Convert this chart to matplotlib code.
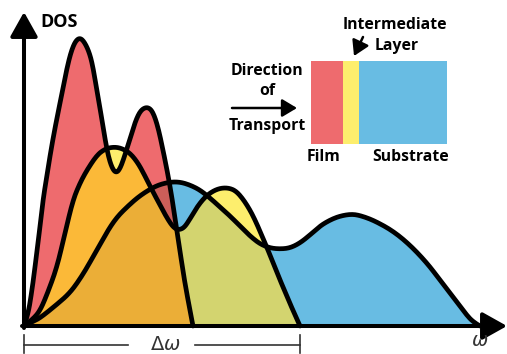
import numpy as np
import matplotlib
matplotlib.use('Agg')
import matplotlib.pyplot as plt
from matplotlib.patches import Rectangle
from matplotlib.path import Path

# DOS curves (arbitrary units), omega and DOS
film_w = [0, 4, 8, 11, 15, 19, 23, 27, 31, 35, 39, 43, 47, 51, 55, 59, 64, 68, 72, 76,
          80, 84, 88, 92, 96, 101, 107, 113, 118, 124, 129, 134, 139, 144, 148, 152, 157, 162, 169]
film_dos = [0, 11, 36, 59, 91, 126, 151, 176, 198, 218, 238, 258, 274, 284, 288, 286, 277, 264, 241, 218,
            193, 171, 158, 153, 157, 171, 191, 209, 217, 219, 214, 199, 176, 151, 128, 101, 68, 36, 0]

layer_w = [0, 8, 16, 24, 33, 41, 49, 56, 63, 73, 81, 89, 97, 106, 114, 121, 128, 136, 143,
           149, 154, 160, 166, 173, 181, 189, 197, 205, 212, 219, 226, 232, 238, 244, 251, 259, 267, 276]
layer_dos = [0, 6, 15, 34, 59, 93, 126, 143, 156, 171, 177, 179, 178, 173, 163, 150, 136, 121, 108,
             99, 96, 98, 107, 119, 129, 135, 138, 138, 135, 127, 116, 104, 90, 76, 58, 39, 20, 0]

sub_w = [0, 8, 16, 31, 46, 58, 69, 78, 86, 94, 103, 113, 123, 134, 146, 156, 166, 176, 186, 196, 206,
         216, 226, 236, 246, 256, 266, 276, 286, 296, 306, 316, 328, 338, 351, 369, 386, 403, 416, 429,
         441, 449, 456]
sub_dos = [0, 4, 8, 20, 33, 50, 69, 85, 99, 110, 119, 128, 135, 141, 144, 144, 141, 136, 128, 119, 110,
           100, 90, 82, 78, 77, 78, 83, 91, 100, 106, 110, 112, 110, 105, 95, 81, 63, 46, 29,
           13, 4, 0]

# colours for every overlap (bit 1 film, 2 layer, 4 substrate)
region_colors = {1: '#EE6B6E', 2: '#FDEE6D', 4: '#68BCE3', 3: '#FBB938',
                 6: '#D3D46F', 5: '#CC5E59', 7: '#EBAE37'}


def smooth_curve(w, d):
    '''
    quadratic bezier through the midpoints, so the sketch lines come out round
    '''
    pts = np.column_stack([w, d]).astype(float)
    verts = [pts[0]]
    codes = [Path.MOVETO]
    for i in range(1, len(pts) - 1):
        end = pts[i + 1] if i == len(pts) - 2 else (pts[i] + pts[i + 1]) / 2
        verts += [pts[i], end]
        codes += [Path.CURVE3, Path.CURVE3]
    path = Path(verts, codes)
    out = []
    for seg, code in path.iter_bezier():
        out.append(seg.point_at_t(np.linspace(0, 1, 12)))
    out = np.vstack(out)
    return out[:, 0], out[:, 1]


fig = plt.figure(figsize=(5.07, 3.54), dpi=100)
ax = fig.add_axes([0, 0, 1, 1])
ax.set_xlim(-24, 483)
ax.set_ylim(-28, 326)
ax.axis('off')

smooth = [smooth_curve(film_w, film_dos), smooth_curve(layer_w, layer_dos), smooth_curve(sub_w, sub_dos)]

# fine grid just for painting the overlaps
x = np.linspace(0, max(sub_w), 4000)
curves = np.array([np.interp(x, sw, sd, right=0) for sw, sd in smooth])
bits = np.array([1, 2, 4])
order = np.argsort(curves, axis=0)
srt = np.take_along_axis(curves, order, axis=0)
lows = [np.zeros_like(x), srt[0], srt[1]]
for k in range(3):
    mask = bits[order[k:]].sum(axis=0)
    hi = srt[k]
    for m, c in region_colors.items():
        sel = mask == m
        sel = sel | np.roll(sel, 1) | np.roll(sel, -1)
        ax.fill_between(x, lows[k], hi, where=sel & (hi > lows[k]), color=c, lw=0)

for sw, sd in smooth[::-1]:
    ax.plot(sw, sd, color='black', lw=3.4, solid_joinstyle='round', solid_capstyle='round')

# axes with arrow heads
arr = dict(arrowstyle='-|>,head_length=0.75,head_width=0.42', color='black', lw=2.9,
           mutation_scale=20, shrinkA=0, shrinkB=0)
ax.annotate('', xy=(0, 314), xytext=(0, -2), arrowprops=arr)
ax.annotate('', xy=(483, 0), xytext=(-2, 0), arrowprops=arr)

ax.text(16, 304, 'DOS', fontsize=13, fontweight='bold', family='Open Sans', va='center', ha='left')
ax.text(456, -15, r'$\omega$', fontsize=14, color='#333333', ha='center', va='center')

# delta omega bracket under the axis
br = layer_w[-1]
ax.plot([0, 104], [-19, -19], color='#333333', lw=1.2)
ax.plot([171, br], [-19, -19], color='#333333', lw=1.2)
ax.plot([0, 0], [-9, -27], color='#333333', lw=1.2)
ax.plot([br, br], [-9, -27], color='#333333', lw=1.2)
ax.text(141, -18, r'$\Delta\omega$', fontsize=14, color='#333333', ha='center', va='center')

# inset: film / intermediate layer / substrate
ax.add_patch(Rectangle((287, 182), 32, 83, color=region_colors[1], lw=0))
ax.add_patch(Rectangle((319, 182), 16, 83, color=region_colors[2], lw=0))
ax.add_patch(Rectangle((335, 182), 88, 83, color=region_colors[4], lw=0))

tk = dict(fontsize=11.3, fontweight='bold', family='Open Sans', ha='center', va='center')
ax.text(371, 301, 'Intermediate', **tk)
ax.text(373, 280, 'Layer', **tk)
ax.text(243, 255, 'Direction', **tk)
ax.text(243, 235, 'of', **tk)
ax.text(243, 200, 'Transport', **tk)
ax.text(299, 169, 'Film', **tk)
ax.text(387, 169, 'Substrate', **tk)

small = dict(arrowstyle='-|>,head_length=0.5,head_width=0.3', color='black', lw=1.8,
             mutation_scale=18, shrinkA=0, shrinkB=0)
ax.annotate('', xy=(273, 218), xytext=(208, 218), arrowprops=small)
ax.annotate('', xy=(330, 270), xytext=(339, 289), arrowprops=small)

plt.savefig('out.png', dpi=100)
